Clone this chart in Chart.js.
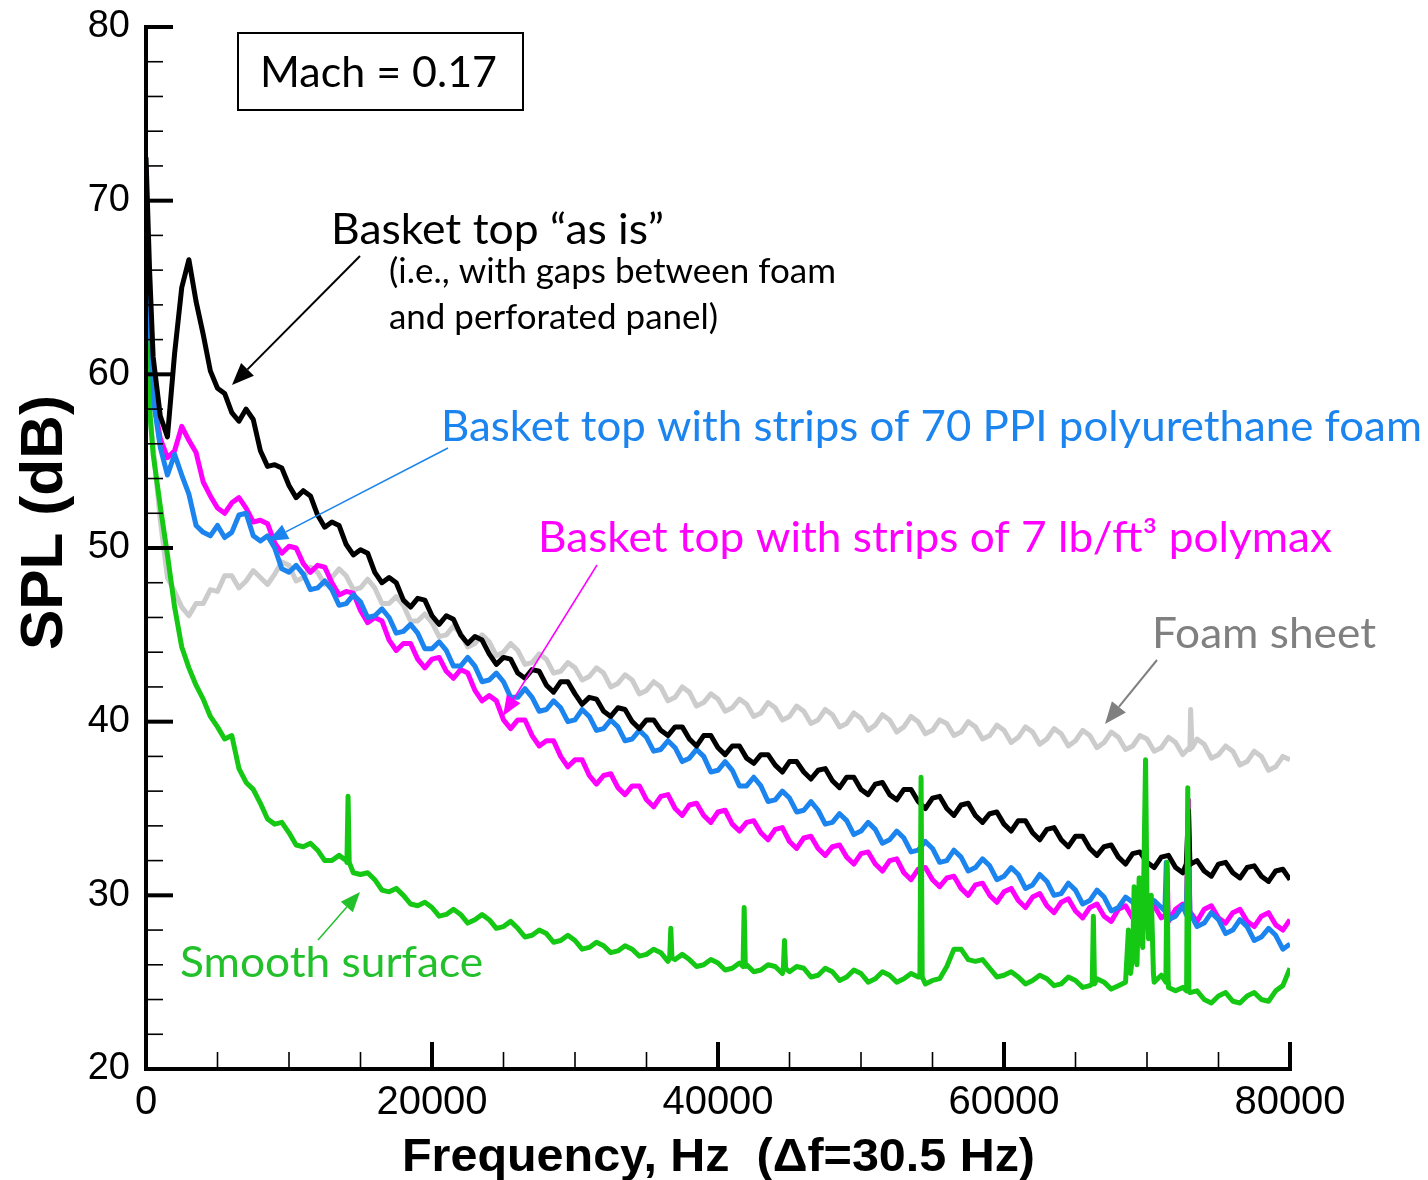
<!DOCTYPE html>
<html>
<head>
<meta charset="utf-8">
<title>SPL spectra, Mach 0.17</title>
<script src="https://cdn.jsdelivr.net/npm/chart.js@4/dist/chart.umd.min.js"></script>
<style>
  html, body { margin: 0; padding: 0; background: #fff; }
  #wrap { width: 1428px; height: 1180px; position: relative; }
</style>
</head>
<body>
<div id="wrap"><canvas id="myChart"></canvas></div>
<script>
// frequency grid shared by all five spectra (Hz)
const freqHz = [0, 250, 500, 1000, 1500, 2000, 2500, 3000, 3500, 4000, 4500,
	5000, 6000, 7000, 8000, 9000, 10000, 11000, 12000, 13000, 14000,
	15000, 16000, 17000, 18000, 19000, 20000, 21000, 22000, 23000, 24000,
	25000, 26000, 27000, 28000, 29000, 30000, 31000, 32000, 33000, 34000,
	35000, 36000, 37000, 38000, 39000, 40000, 41000, 42000, 43000, 44000,
	45000, 46000, 47000, 48000, 49000, 50000, 51000, 52000, 53000, 54000,
	55000, 56000, 57000, 58000, 59000, 60000, 61000, 62000, 63000, 64000,
	65000, 66000, 67000, 68000, 69000, 70000, 71000, 72000, 73000, 74000,
	75000, 76000, 77000, 78000, 79000, 80000]

// in-between readings (Hz) to keep the noisy texture of the spectra
const freqMidHz = [5500, 6500, 7500, 8500, 9500, 10500, 11500, 12500, 13500, 14500,
	15500, 16500, 17500, 18500, 19500, 20500, 21500, 22500, 23500, 24500,
	25500, 26500, 27500, 28500, 29500, 30500, 31500, 32500, 33500, 34500,
	35500, 36500, 37500, 38500, 39500, 40500, 41500, 42500, 43500, 44500,
	45500, 46500, 47500, 48500, 49500, 50500, 51500, 52500, 53500, 54500,
	55500, 56500, 57500, 58500, 59500, 60500, 61500, 62500, 63500, 64500,
	65500, 66500, 67500, 68500, 69500, 70500, 71500, 72500, 73500, 74500,
	75500, 76500, 77500, 78500, 79500]

// SPL (dB), basket top "as is"
const asIsDb = [72.5, 66.0, 61.0, 57.6, 56.4, 61.2, 65.0, 66.6, 64.2, 62.3, 60.2,
	59.2, 57.8, 58.0, 55.6, 54.8, 53.6, 53.3, 51.9, 51.5, 50.2,
	49.9, 48.6, 48.3, 47.0, 47.1, 46.1, 46.1, 45.0, 44.9, 43.9,
	43.7, 42.8, 43.0, 42.1, 42.3, 41.6, 41.4, 40.6, 40.8, 40.0,
	40.1, 39.5, 39.7, 39.0, 39.2, 38.5, 38.6, 37.9, 38.1, 37.5,
	37.7, 37.1, 37.2, 36.6, 36.8, 36.1, 36.4, 35.8, 36.1, 35.4,
	35.6, 35.0, 35.2, 34.6, 34.7, 34.1, 34.3, 33.6, 33.8, 33.2,
	33.4, 32.7, 32.8, 32.2, 32.4, 31.9, 32.2, 31.6, 31.9, 31.4,
	31.8, 31.3, 31.6, 31.1, 31.4, 30.9]
const asIsMidDb = [58.9, 57.3, 57.4, 54.7, 54.6, 52.9, 53.0, 51.2, 51.3, 49.6,
	49.7, 48.0, 48.0, 46.6, 47.0, 45.6, 45.9, 44.5, 44.7, 43.3,
	43.6, 42.5, 42.9, 41.7, 42.3, 41.0, 41.3, 40.3, 40.7, 39.6,
	40.1, 39.2, 39.7, 38.6, 39.2, 38.1, 38.6, 37.6, 38.1, 37.1,
	37.7, 36.7, 37.3, 36.2, 36.8, 35.8, 36.5, 35.5, 36.1, 35.0,
	35.7, 34.6, 35.3, 34.2, 34.8, 33.7, 34.3, 33.2, 33.9, 32.8,
	33.4, 32.3, 32.9, 31.8, 32.5, 31.6, 32.3, 31.3, 32.0, 31.1,
	31.9, 31.0, 31.7, 30.8, 31.5]

// basket top with strips of 70 PPI polyurethane foam
const ppiDb = [70.0, 62.0, 58.6, 55.8, 54.2, 55.4, 54.2, 53.1, 51.3, 50.9, 50.7,
	51.3, 50.9, 52.0, 50.4, 50.0, 48.6, 48.5, 47.7, 47.6, 46.8,
	46.9, 46.1, 46.0, 45.2, 45.1, 44.2, 44.1, 43.2, 43.2, 42.4,
	42.3, 41.4, 41.4, 40.7, 40.8, 40.1, 40.3, 39.6, 39.7, 39.0,
	39.1, 38.4, 38.5, 37.9, 38.0, 37.2, 37.2, 36.3, 36.3, 35.5,
	35.6, 34.9, 34.9, 34.2, 34.3, 33.7, 33.8, 33.2, 33.3, 32.6,
	32.7, 32.0, 32.2, 31.6, 31.7, 31.1, 31.2, 30.6, 30.8, 30.1,
	30.3, 29.7, 29.9, 29.3, 29.6, 29.1, 29.3, 28.8, 29.0, 28.4,
	28.6, 28.0, 28.2, 27.6, 27.7, 27.2]
const ppiMidDb = [50.6, 51.9, 50.7, 50.7, 48.8, 49.0, 47.6, 48.1, 46.7, 47.3,
	46.0, 46.5, 45.1, 45.6, 44.2, 44.6, 43.2, 43.7, 42.3, 42.8,
	41.4, 41.9, 40.6, 41.2, 40.0, 40.7, 39.5, 40.1, 38.9, 39.5,
	38.3, 38.9, 37.7, 38.4, 37.1, 37.7, 36.3, 36.8, 35.4, 36.0,
	34.8, 35.4, 34.1, 34.7, 33.5, 34.2, 33.0, 33.7, 32.5, 33.1,
	31.9, 32.6, 31.4, 32.1, 30.9, 31.6, 30.4, 31.2, 30.0, 30.7,
	29.5, 30.3, 29.1, 29.9, 28.9, 29.7, 28.6, 29.4, 28.2, 29.0,
	27.8, 28.6, 27.4, 28.1, 26.9]

// basket top with strips of 7 lb/ft3 polymax
const polymaxDb = [72.0, 63.0, 58.6, 56.3, 55.2, 55.6, 57.0, 56.2, 55.5, 53.8, 53.0,
	52.3, 52.6, 52.3, 51.6, 50.3, 50.1, 49.1, 49.0, 48.0, 47.5,
	46.4, 46.0, 44.7, 44.5, 43.6, 43.6, 42.9, 43.0, 41.8, 41.5,
	40.1, 40.1, 39.2, 38.9, 38.0, 37.8, 36.9, 36.9, 36.2, 36.3,
	35.5, 35.7, 35.0, 35.2, 34.6, 34.8, 34.1, 34.2, 33.6, 33.8,
	33.1, 33.3, 32.7, 32.8, 32.2, 32.4, 31.8, 32.0, 31.3, 31.5,
	30.9, 31.0, 30.4, 30.6, 30.0, 30.2, 29.7, 29.9, 29.4, 29.6,
	29.1, 29.3, 28.8, 29.2, 28.7, 29.1, 28.7, 29.2, 28.8, 29.2,
	28.7, 29.0, 28.5, 28.8, 28.3, 28.6]
const polymaxMidDb = [52.0, 52.9, 51.5, 51.4, 49.7, 50.0, 48.6, 48.9, 47.3, 47.4,
	45.7, 45.8, 44.1, 44.5, 43.1, 43.7, 42.5, 42.8, 41.2, 41.2,
	39.6, 40.1, 38.6, 38.9, 37.4, 37.8, 36.4, 37.0, 35.8, 36.3,
	35.1, 35.8, 34.6, 35.3, 34.2, 34.9, 33.7, 34.3, 33.2, 33.9,
	32.7, 33.4, 32.3, 32.9, 31.8, 32.5, 31.4, 32.1, 30.9, 31.6,
	30.5, 31.1, 30.0, 30.7, 29.6, 30.4, 29.3, 30.1, 29.0, 29.8,
	28.7, 29.5, 28.5, 29.4, 28.4, 29.4, 28.5, 29.5, 28.5, 29.4,
	28.4, 29.2, 28.2, 29.0, 28.0]

// foam sheet
const foamDb = [62.0, 58.0, 55.8, 51.6, 48.3, 47.5, 46.6, 46.1, 46.8, 46.8, 47.6,
	47.5, 48.4, 48.1, 48.3, 48.5, 49.0, 48.3, 48.6, 48.3, 48.4,
	47.7, 47.7, 46.8, 46.7, 45.8, 45.7, 45.0, 45.1, 44.5, 44.6,
	44.0, 44.1, 43.4, 43.6, 42.9, 43.1, 42.6, 42.8, 42.2, 42.4,
	41.8, 42.0, 41.4, 41.7, 41.1, 41.3, 40.8, 41.0, 40.5, 40.8,
	40.3, 40.6, 40.1, 40.4, 39.9, 40.2, 39.8, 40.1, 39.7, 40.0,
	39.5, 39.9, 39.4, 39.7, 39.2, 39.5, 39.1, 39.4, 39.0, 39.3,
	38.9, 39.2, 38.8, 39.1, 38.6, 39.0, 38.5, 38.8, 38.4, 38.7,
	38.1, 38.3, 37.7, 38.0, 37.4, 37.8]
const foamMidDb = [48.4, 47.7, 48.7, 47.9, 49.2, 48.1, 48.9, 47.9, 48.8, 47.6,
	48.2, 46.8, 47.2, 45.8, 46.2, 44.9, 45.5, 44.3, 45.0, 43.8,
	44.5, 43.3, 43.9, 42.8, 43.4, 42.4, 43.1, 42.0, 42.7, 41.6,
	42.3, 41.2, 42.0, 40.9, 41.6, 40.6, 41.3, 40.3, 41.1, 40.1,
	40.9, 39.9, 40.7, 39.7, 40.5, 39.5, 40.4, 39.4, 40.3, 39.3,
	40.1, 39.2, 40.0, 39.0, 39.8, 38.8, 39.7, 38.7, 39.6, 38.6,
	39.5, 38.5, 39.4, 38.4, 39.2, 38.3, 39.1, 38.1, 39.0, 37.9,
	38.6, 37.5, 38.3, 37.2, 38.0]

// smooth surface
const smoothDb = [62.0, 58.0, 55.4, 52.4, 49.6, 46.6, 44.3, 43.1, 42.1, 41.3, 40.3,
	39.7, 39.2, 36.5, 35.3, 34.1, 33.6, 32.8, 32.6, 32.0, 32.0,
	31.2, 30.9, 30.2, 30.0, 29.4, 29.3, 28.9, 28.9, 28.6, 28.6,
	28.2, 28.1, 27.7, 27.8, 27.4, 27.4, 27.0, 27.1, 26.8, 26.9,
	26.6, 26.7, 26.3, 26.3, 26.0, 26.1, 25.8, 26.0, 25.7, 25.9,
	25.6, 25.8, 25.4, 25.6, 25.3, 25.5, 25.2, 25.4, 25.2, 25.3,
	25.1, 25.9, 26.9, 26.2, 25.8, 25.4, 25.3, 25.1, 25.2, 24.9,
	25.1, 24.8, 25.0, 24.8, 26.5, 29.5, 25.4, 24.5, 24.4, 24.0,
	24.2, 23.9, 24.2, 24.0, 24.5, 25.8]
const smoothMidDb = [39.0, 37.3, 36.1, 34.4, 34.2, 32.9, 33.0, 32.0, 32.3, 31.3,
	31.3, 30.3, 30.4, 29.5, 29.6, 28.8, 29.2, 28.4, 28.9, 28.1,
	28.5, 27.6, 28.0, 27.3, 27.7, 26.9, 27.3, 26.7, 27.1, 26.5,
	26.9, 26.2, 26.6, 25.9, 26.3, 25.7, 26.1, 25.6, 26.0, 25.5,
	25.9, 25.3, 25.8, 25.1, 25.7, 25.0, 25.6, 25.0, 25.5, 24.9,
	25.2, 26.9, 26.3, 26.3, 25.3, 25.6, 24.9, 25.4, 24.8, 25.3,
	24.7, 25.2, 24.6, 25.0, 28.5, 25.0, 24.7, 24.7, 24.5, 23.8,
	24.4, 23.8, 24.4, 23.9, 24.8]

// narrow tonal spikes (Hz / dB)
const asIsSpikeHz = [72750, 72900, 73050]
const asIsSpikeDb = [31.8, 34.9, 31.8]
const ppiSpikeHz = [71250, 71350, 71450, 72750, 72900, 73050]
const ppiSpikeDb = [29.1, 31.9, 29.1, 28.9, 33.0, 28.9]
const polymaxSpikeHz = [71320, 71400, 71480, 72750, 72900, 73050]
const polymaxSpikeDb = [28.9, 31.7, 28.9, 29.0, 35.5, 29.0]
const foamSpikeHz = [72950, 73050, 73150]
const foamSpikeDb = [38.5, 40.7, 38.5]
const smoothSpikeHz = [14050, 14130, 14210, 36620, 36700, 36780, 41750, 41830, 41910,
	44570, 44650, 44730, 54120, 54200, 54280, 66170, 66250, 66330,
	68700, 68850, 69100, 69300, 69450, 69700, 69900, 70100, 70300, 70450,
	71320, 71400, 71480, 72770, 72850, 72930]
const smoothSpikeDb = [31.9, 35.7, 31.9, 26.4, 28.1, 26.4, 25.9, 29.3, 25.9,
	25.8, 27.4, 25.8, 25.3, 36.8, 25.3, 24.9, 28.8, 24.9,
	28.0, 25.5, 30.5, 26.0, 31.0, 27.0, 37.8, 27.5, 30.0, 25.5,
	25.0, 31.9, 25.0, 24.5, 36.2, 24.5]

// axes
const xTicks = [0, 20000, 40000, 60000, 80000]
const xMinorTicks = [5000, 10000, 15000, 25000, 30000, 35000, 45000, 50000, 55000, 65000, 70000, 75000]
const yTicks = [20, 30, 40, 50, 60, 70, 80]
const yMinorTicks = [22, 24, 26, 28, 32, 34, 36, 38, 42, 44, 46, 48, 52, 54, 56, 58, 62, 64, 66, 68, 72, 74, 76, 78]

const series = (vals, midVals, spikeHz, spikeDb) => {
	const pts = freqHz.map((f, i) => ({ x: f, y: vals[i] }))
	freqMidHz.forEach((f, i) => pts.push({ x: f, y: midVals[i] }))
	spikeHz.forEach((f, i) => pts.push({ x: f, y: spikeDb[i] }))
	return pts.sort((a, b) => a.x - b.x)
}

const stretchText = (ctx, str, left, base, width, font, color) => {
	ctx.save()
	ctx.font = font
	ctx.fillStyle = color
	ctx.textBaseline = 'alphabetic'
	ctx.textAlign = 'left'
	const w = ctx.measureText(str).width
	ctx.translate(left, base)
	ctx.scale(width / w, 1)
	ctx.fillText(str, 0, 0)
	ctx.restore()
}

const arrow = (ctx, x1, y1, x2, y2, color, lw, head, half) => {
	const ang = Math.atan2(y2 - y1, x2 - x1)
	const bx = x2 - head * Math.cos(ang)
	const by = y2 - head * Math.sin(ang)
	ctx.save()
	ctx.strokeStyle = color
	ctx.fillStyle = color
	ctx.lineWidth = lw
	ctx.beginPath()
	ctx.moveTo(x1, y1)
	ctx.lineTo(bx, by)
	ctx.stroke()
	ctx.beginPath()
	ctx.moveTo(x2, y2)
	ctx.lineTo(bx + half * Math.sin(ang), by - half * Math.cos(ang))
	ctx.lineTo(bx - half * Math.sin(ang), by + half * Math.cos(ang))
	ctx.closePath()
	ctx.fill()
	ctx.restore()
}

// inward tick marks + axis lines
const axesPlugin = {
	id: 'axes',
	afterDatasetsDraw(chart) {
		const { ctx, chartArea: a, scales: { x, y } } = chart
		const seg = (x1, y1, x2, y2, w) => {
			ctx.lineWidth = w
			ctx.beginPath()
			ctx.moveTo(x1, y1)
			ctx.lineTo(x2, y2)
			ctx.stroke()
		}
		ctx.save()
		ctx.strokeStyle = '#000'
		ctx.lineCap = 'butt'
		yMinorTicks.forEach((v) => seg(a.left, y.getPixelForValue(v), a.left + 17, y.getPixelForValue(v), 1.6))
		yTicks.forEach((v) => seg(a.left, y.getPixelForValue(v), a.left + 27, y.getPixelForValue(v), 4))
		xMinorTicks.forEach((v) => seg(x.getPixelForValue(v), a.bottom, x.getPixelForValue(v), a.bottom - 17, 1.6))
		xTicks.forEach((v) => seg(x.getPixelForValue(v), a.bottom, x.getPixelForValue(v), a.bottom - 27, 4))
		seg(a.left, a.top - 2, a.left, a.bottom + 2, 4)
		seg(a.left - 2, a.bottom, a.right + 2, a.bottom, 4)
		ctx.restore()
	},
}

// text labels, arrows, axis titles
const notesPlugin = {
	id: 'notes',
	afterDraw(chart) {
		const { ctx } = chart
		const big = '42px Lato'
		const small = '34px Lato'
		ctx.save()
		ctx.strokeStyle = '#000'
		ctx.lineWidth = 2
		ctx.strokeRect(238, 33, 285, 77)
		ctx.restore()
		stretchText(ctx, 'Mach = 0.17', 260, 87, 237, big, '#000')
		stretchText(ctx, 'Basket top \u201cas is\u201d', 331, 244, 333, big, '#000')
		stretchText(ctx, '(i.e., with gaps between foam', 389, 283, 447, small, '#000')
		stretchText(ctx, 'and perforated panel)', 389, 329, 329, small, '#000')
		stretchText(ctx, 'Basket top with strips of 70 PPI polyurethane foam', 441, 441, 981, big, '#1b84ee')
		stretchText(ctx, 'Basket top with strips of 7 lb/ft\u00b3 polymax', 538, 552, 794, big, '#ff00ff')
		stretchText(ctx, 'Foam sheet', 1152, 648, 224, big, '#808080')
		stretchText(ctx, 'Smooth surface', 180, 977, 303, big, '#22c02a')

		arrow(ctx, 360, 256, 232, 385, '#000', 2, 22, 9)
		arrow(ctx, 448, 448, 268, 541, '#1b84ee', 1.5, 20, 8)
		arrow(ctx, 597, 565, 503, 716, '#ff00ff', 1.5, 20, 8)
		arrow(ctx, 1157, 660, 1105, 724, '#808080', 2, 22, 9)
		arrow(ctx, 318, 940, 360, 892, '#22c02a', 1.5, 20, 8)

		// axis titles
		stretchText(ctx, 'Frequency, Hz  (\u0394f=30.5 Hz)', 402, 1171, 633, 'bold 46px "Liberation Sans"', '#000')
		ctx.save()
		ctx.translate(62, 650)
		ctx.rotate(-Math.PI / 2)
		stretchText(ctx, 'SPL (dB)', 0, 0, 255, 'bold 59px "Liberation Sans"', '#000')
		ctx.restore()
	},
}

const ctx = document.getElementById('myChart').getContext('2d')
const myChart = new Chart(ctx, {
	type: 'line',
	data: {
		datasets: [
			{ label: 'Smooth surface', data: series(smoothDb, smoothMidDb, smoothSpikeHz, smoothSpikeDb), borderColor: '#14c814' },
			{ label: 'Basket top "as is"', data: series(asIsDb, asIsMidDb, asIsSpikeHz, asIsSpikeDb), borderColor: '#000000' },
			{ label: '70 PPI polyurethane foam', data: series(ppiDb, ppiMidDb, ppiSpikeHz, ppiSpikeDb), borderColor: '#1b84ee' },
			{ label: '7 lb/ft3 polymax', data: series(polymaxDb, polymaxMidDb, polymaxSpikeHz, polymaxSpikeDb), borderColor: '#ff00ff' },
			{ label: 'Foam sheet', data: series(foamDb, foamMidDb, foamSpikeHz, foamSpikeDb), borderColor: '#cccccc' },
		],
	},
	options: {
		responsive: true,
		maintainAspectRatio: false,
		animation: false,
		layout: { padding: { top: 27, right: 138, left: 0, bottom: 0 } },
		elements: {
			point: { radius: 0 },
			line: { borderWidth: 5, tension: 0, borderJoinStyle: 'round' },
		},
		plugins: {
			legend: { display: false },
			tooltip: { enabled: false },
		},
		scales: {
			x: {
				type: 'linear',
				min: 0,
				max: 80000,
				afterFit: (s) => {
					s.height = 111
					s.paddingLeft = 0
					s.paddingRight = 0
				},
				afterBuildTicks: (s) => (s.ticks = xTicks.map((v) => ({ value: v }))),
				grid: { display: false, drawTicks: false },
				border: { display: false },
				ticks: {
					autoSkip: false,
					maxRotation: 0,
					padding: 10,
					color: '#000',
					font: { family: 'Liberation Sans', size: 40 },
					callback: (v) => String(v),
				},
			},
			y: {
				min: 20,
				max: 80,
				afterFit: (s) => {
					s.width = 146
					s.paddingTop = 0
					s.paddingBottom = 0
				},
				afterBuildTicks: (s) => (s.ticks = yTicks.map((v) => ({ value: v }))),
				grid: { display: false, drawTicks: false },
				border: { display: false },
				ticks: {
					autoSkip: false,
					padding: 16,
					color: '#000',
					font: { family: 'Liberation Sans', size: 38 },
					callback: (v) => String(v),
				},
			},
		},
	},
	plugins: [axesPlugin, notesPlugin],
})
</script>
</body>
</html>
